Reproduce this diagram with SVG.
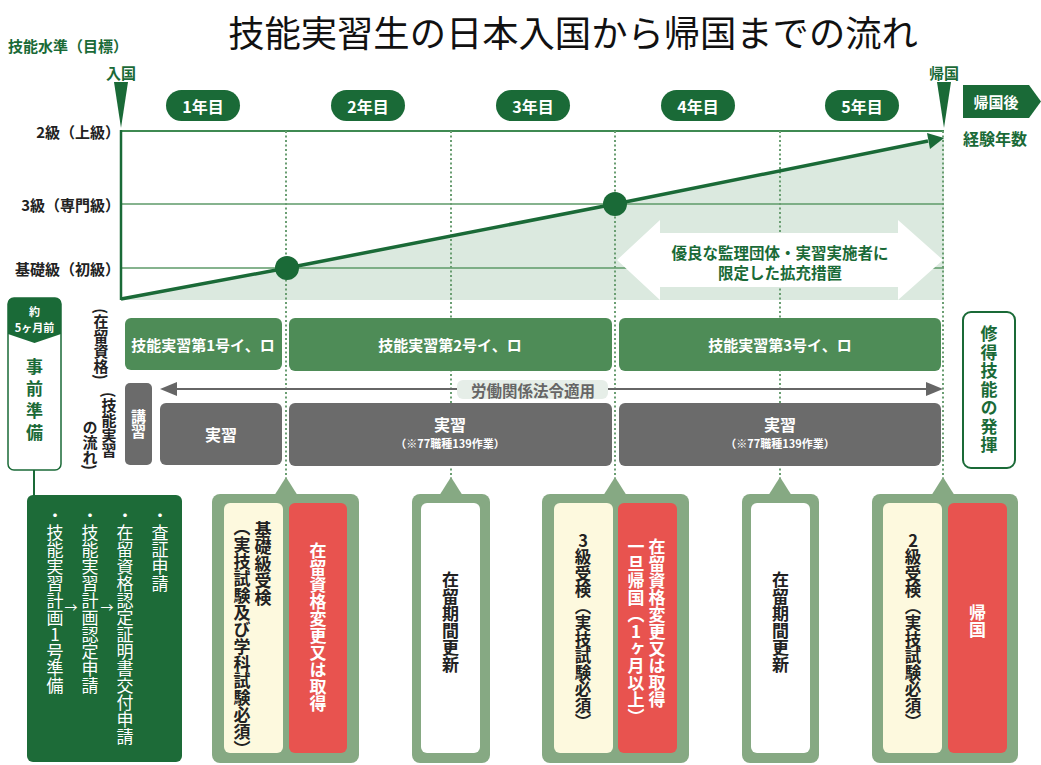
<svg xmlns="http://www.w3.org/2000/svg" width="1041" height="765" viewBox="0 0 1041 765">
<style>
text{font-family:"Noto Sans CJK JP","Noto Sans",sans-serif;dominant-baseline:central}
.b{font-weight:700}
.g{fill:#1a6a37}
.w{fill:#fff}
.k{fill:#222}
.gy{fill:#666}
.mid{text-anchor:middle}
.end{text-anchor:end}
.v{writing-mode:vertical-rl}
.vu{writing-mode:vertical-rl;text-orientation:upright}
.grid{stroke:#5e9a69;stroke-width:1.5;fill:none}
.dot{stroke:#6a9e72;stroke-width:2;stroke-dasharray:2 2.5;fill:none}
.pill{fill:#1a6a37}
.bar{fill:#4e8c57}
.gbox{fill:#6b6b6b}
.outer{fill:#86a983}
.cream{fill:#fdf9de}
.red{fill:#e8534f}
.white{fill:#fff}
</style>

<text x="573" y="31" class="mid" fill="#111" font-size="36.3">技能実習生の日本入国から帰国までの流れ</text>
<text x="8" y="45" class="b g" font-size="15">技能水準（目標）</text>

<g id="chart">
  <polygon points="121,299 287,268 615,204 944,138 944,300 121,300" fill="#dbe9df"/>
  <line x1="121" y1="131" x2="944" y2="131" stroke="#3f8a52" stroke-width="2"/>
  <line x1="121" y1="204" x2="944" y2="204" class="grid"/>
  <line x1="121" y1="268" x2="944" y2="268" class="grid"/>
  <g id="dotted">
    <line x1="286" y1="131" x2="286" y2="480" class="dot"/>
    <line x1="451" y1="131" x2="451" y2="480" class="dot"/>
    <line x1="615" y1="131" x2="615" y2="480" class="dot"/>
    <line x1="780" y1="131" x2="780" y2="480" class="dot"/>
    <line x1="943" y1="131" x2="943" y2="480" class="dot"/>
  </g>
  <g id="expansion">
    <polygon points="617,260 660,220 660,233 898,233 898,220 943,260 898,300 898,287 660,287 660,300" fill="#fff"/>
    <text x="780" y="252" class="mid b g" font-size="15.5">優良な監理団体・実習実施者に</text>
    <text x="780" y="272" class="mid b g" font-size="15.5">限定した拡充措置</text>
  </g>
  <polyline points="121,299 287,268 615,204 928,141" fill="none" stroke="#1a6a37" stroke-width="3.5"/>
  <polygon points="944,138 930,149 927,133" fill="#1a6a37"/>
  <circle cx="287" cy="268" r="12" fill="#1a6a37"/>
  <circle cx="615" cy="204" r="12" fill="#1a6a37"/>
  <line x1="121" y1="130" x2="121" y2="300" stroke="#1a6a37" stroke-width="2.5"/>
  <text x="120" y="131" class="end b k" font-size="15">2級（上級）</text>
  <text x="120" y="204" class="end b k" font-size="15">3級（専門級）</text>
  <text x="120" y="268" class="end b k" font-size="15">基礎級（初級）</text>
</g>

<g id="entry">
  <text x="121" y="72" class="mid b g" font-size="15">入国</text>
  <polygon points="114,82 128,82 121,128" fill="#1a6a37"/>
</g>
<g id="return">
  <text x="944" y="72" class="mid b g" font-size="15">帰国</text>
  <polygon points="937,82 951,82 944,128" fill="#1a6a37"/>
</g>
<g id="after">
  <polygon points="963,85 1029,85 1041,101.5 1029,118 963,118" fill="#1a6a37"/>
  <text x="996" y="101.5" class="mid b w" font-size="15">帰国後</text>
  <text x="995" y="138" class="mid b g" font-size="16">経験年数</text>
</g>

<g id="years">
  <rect x="166" y="90" width="74" height="31" rx="15.5" class="pill"/>
  <text x="203" y="105.5" class="mid b w" font-size="16">1年目</text>
  <rect x="331" y="90" width="74" height="31" rx="15.5" class="pill"/>
  <text x="368" y="105.5" class="mid b w" font-size="16">2年目</text>
  <rect x="496" y="90" width="74" height="31" rx="15.5" class="pill"/>
  <text x="533" y="105.5" class="mid b w" font-size="16">3年目</text>
  <rect x="661" y="90" width="74" height="31" rx="15.5" class="pill"/>
  <text x="698" y="105.5" class="mid b w" font-size="16">4年目</text>
  <rect x="825" y="90" width="74" height="31" rx="15.5" class="pill"/>
  <text x="862" y="105.5" class="mid b w" font-size="16">5年目</text>
</g>

<g id="status">
  <text x="101" y="344" class="v mid b k" font-size="15">(在留資格)</text>
  <rect x="125" y="318" width="157" height="52" rx="6" class="bar"/>
  <text x="203" y="344" class="mid b w" font-size="15">技能実習第1号イ、ロ</text>
  <rect x="289" y="318" width="323" height="53" rx="6" class="bar"/>
  <text x="450" y="344" class="mid b w" font-size="15">技能実習第2号イ、ロ</text>
  <rect x="619" y="318" width="322" height="53" rx="6" class="bar"/>
  <text x="780" y="344" class="mid b w" font-size="15">技能実習第3号イ、ロ</text>
</g>

<g id="flow">
  <text x="109" y="392" class="v b k" font-size="15">(技能実習</text>
  <text x="90" y="470" class="v end b k" font-size="15">の流れ)</text>
  <rect x="125" y="383" width="27" height="82" rx="5" class="gbox"/>
  <text x="138.5" y="424" class="v mid b w" font-size="15">講習</text>
  <rect x="160" y="403" width="122" height="62" rx="6" class="gbox"/>
  <text x="221" y="434" class="mid b w" font-size="16">実習</text>
  <rect x="289" y="403" width="323" height="63" rx="6" class="gbox"/>
  <text x="450" y="424" class="mid b w" font-size="16">実習</text>
  <text x="450" y="443" class="mid b w" font-size="11">（※77職種139作業）</text>
  <rect x="619" y="403" width="322" height="63" rx="6" class="gbox"/>
  <text x="780" y="424" class="mid b w" font-size="16">実習</text>
  <text x="780" y="443" class="mid b w" font-size="11">（※77職種139作業）</text>
</g>

<g id="labor-law">
  <line x1="172" y1="389" x2="930" y2="389" stroke="#666" stroke-width="2"/>
  <polygon points="160,389 177,382 177,396" fill="#666"/>
  <polygon points="943,389 926,382 926,396" fill="#666"/>
  <rect x="457" y="380" width="151" height="19" rx="6" fill="#e6eee8"/>
  <text x="533" y="389.5" class="mid b gy" font-size="15.5">労働関係法令適用</text>
</g>

<g id="result">
  <rect x="963" y="312" width="52" height="156" rx="8" fill="#fff" stroke="#1a6a37" stroke-width="2"/>
  <text x="989" y="390" class="v mid b g" font-size="17" letter-spacing="1.5">修得技能の発揮</text>
</g>

<g id="prep">
  <rect x="8" y="298" width="53" height="172" rx="6" fill="#fff" stroke="#1a6a37" stroke-width="1.5"/>
  <path d="M8,304 Q8,298 14,298 H55 Q61,298 61,304 V334 L34.5,343 L8,334 Z" fill="#1a6a37"/>
  <text x="34.5" y="311" class="mid b w" font-size="11">約</text>
  <text x="34.5" y="327" class="mid b w" font-size="11">5ヶ月前</text>
  <text x="34.5" y="402" class="v mid b g" font-size="17" letter-spacing="5">事前準備</text>
</g>

<g id="connectors">
  <line x1="34" y1="470" x2="34" y2="496" stroke="#1a6a37" stroke-width="2"/>
</g>

<g id="prep-steps">
  <rect x="27" y="495" width="155" height="267" rx="6" fill="#1d6b38"/>
  <text x="160" y="507" class="v w" font-size="17">・査証申請</text>
  <text x="125" y="507" class="v w" font-size="17">・在留資格認定証明書交付申請</text>
  <text x="90" y="507" class="v w" font-size="17">・技能実習計画認定申請</text>
  <text x="55" y="507" class="vu w" font-size="17">・技能実習計画1号準備</text>
  <text x="71" y="606" class="mid w" font-size="13">→</text>
  <text x="107" y="606" class="mid w" font-size="13">→</text>
</g>

<g id="callout1">
  <rect x="212" y="494" width="147" height="269" rx="8" class="outer"/>
  <polygon points="274,496 286,477 298,496" class="outer"/>
  <rect x="224" y="503" width="59" height="250" rx="6" class="cream"/>
  <rect x="289" y="503" width="58" height="250" rx="6" class="red"/>
  <text x="263" y="521" class="v b k" font-size="17">基礎級受検</text>
  <text x="242" y="519" class="v b k" font-size="17">（実技試験及び学科試験必須）</text>
  <text x="318" y="627" class="v mid b w" font-size="17">在留資格変更又は取得</text>
</g>

<g id="callout2">
  <rect x="412" y="494" width="78" height="269" rx="8" class="outer"/>
  <polygon points="439,496 451,477 463,496" class="outer"/>
  <rect x="421" y="503" width="59" height="250" rx="6" class="white"/>
  <text x="450.5" y="622" class="v mid b k" font-size="17">在留期間更新</text>
</g>

<g id="callout3">
  <rect x="542" y="494" width="147" height="269" rx="8" class="outer"/>
  <polygon points="603,496 615,477 627,496" class="outer"/>
  <rect x="554" y="503" width="59" height="250" rx="6" class="cream"/>
  <rect x="618" y="503" width="59" height="250" rx="6" class="red"/>
  <text x="583" y="532" class="vu b k" font-size="16.5">3級受検（実技試験必須）</text>
  <text x="657" y="538" class="v b w" font-size="17">在留資格変更又は取得</text>
  <text x="636" y="538" class="vu b w" font-size="17">一旦帰国（1ヶ月以上）</text>
</g>

<g id="callout4">
  <rect x="742" y="494" width="77" height="269" rx="8" class="outer"/>
  <polygon points="768,496 780,477 792,496" class="outer"/>
  <rect x="751" y="503" width="59" height="250" rx="6" class="white"/>
  <text x="780.5" y="622" class="v mid b k" font-size="17">在留期間更新</text>
</g>

<g id="callout5">
  <rect x="872" y="494" width="146" height="269" rx="8" class="outer"/>
  <polygon points="931,496 943,477 955,496" class="outer"/>
  <rect x="883" y="503" width="59" height="250" rx="6" class="cream"/>
  <rect x="948" y="503" width="59" height="250" rx="6" class="red"/>
  <text x="913" y="532" class="vu b k" font-size="16.5">2級受検（実技試験必須）</text>
  <text x="977.5" y="621" class="v mid b w" font-size="17">帰国</text>
</g>
</svg>
